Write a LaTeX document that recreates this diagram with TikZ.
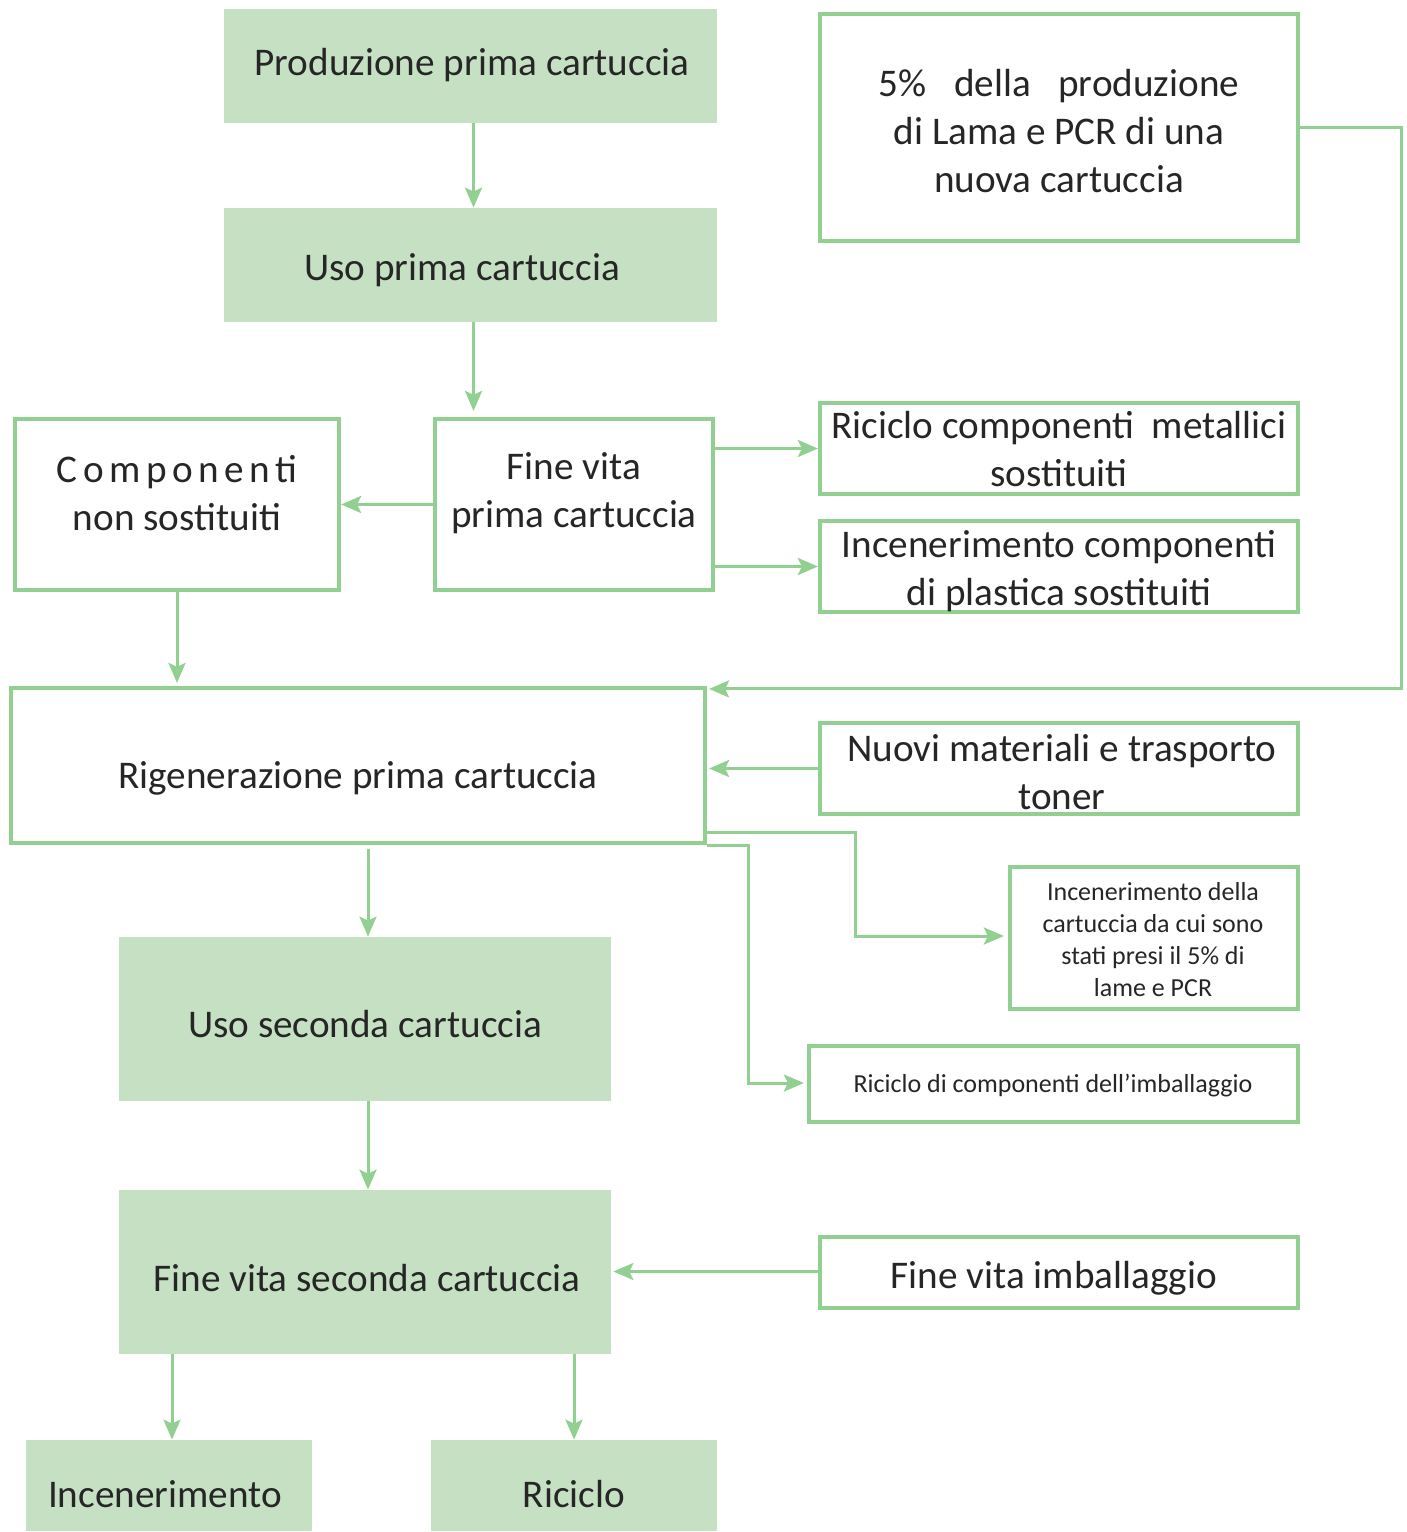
\documentclass[tikz,border=0pt]{standalone}
\usepackage{fontspec}
\setmainfont{Carlito}
\usetikzlibrary{arrows.meta,calc}
\definecolor{boxfill}{RGB}{197,224,195}
\definecolor{boxline}{RGB}{146,208,145}
\definecolor{ink}{RGB}{38,38,38}
\begin{document}
\begin{tikzpicture}[x=0.5pt,y=-0.5pt,
  size/.style 2 args={minimum width=#1*0.5pt, minimum height=#2*0.5pt},
  solidbox/.style 2 args={fill=boxfill, draw=none, inner sep=0pt, size={#1}{#2}},
  framebox/.style 2 args={draw=boxline, line width=2.1pt, fill=white, inner sep=0pt, size={#1}{#2}},
  txt/.style={align=center, inner sep=0pt, text=ink, font=\fontsize{19.6}{24}\selectfont},
  smalltxt/.style={align=center, inner sep=0pt, text=ink, font=\fontsize{13}{16}\selectfont},
  conn/.style={draw=boxline, line width=1.5pt, -{Stealth[length=10pt, width=8.5pt, inset=2pt]}},
  link/.style={draw=boxline, line width=1.5pt}]
\useasboundingbox (0,0) rectangle (1407,1532);

% boxes
\node[solidbox={493}{114}] (p1) at (470.5,66) {};
\node[solidbox={493}{114}] (p2) at (470.5,265) {};
\node[framebox={478}{227}] (pct) at (1059,127.5) {};
\node[framebox={278}{171}] (fv1) at (574,504.5) {};
\node[framebox={324}{171}] (comp) at (177,504.5) {};
\node[framebox={478}{91}] (met) at (1059,448.5) {};
\node[framebox={478}{91}] (pla) at (1059,566.5) {};
\node[framebox={694}{155}] (rig) at (358,765.5) {};
\node[framebox={478}{91}] (nuo) at (1059,768.5) {};
\node[framebox={288}{142}] (inc) at (1154,938) {};
\node[framebox={489}{76}] (imb) at (1053.5,1084) {};
\node[solidbox={492}{164}] (uso2) at (365,1019) {};
\node[solidbox={492}{164}] (fv2) at (365,1272) {};
\node[framebox={478}{71}] (fvi) at (1059,1272.5) {};
\node[solidbox={286}{91}] (ince) at (169,1485.5) {};
\node[solidbox={286}{91}] (ric) at (574,1485.5) {};

% labels
\node[txt] (p1t) at (472,65) {Produzione prima cartuccia};
\node[txt] (p2t) at (462,270) {Uso prima cartuccia};
\node[txt] (pctt) at (1059,131) {5\%\hspace{0.7em}della\hspace{0.7em}produzione\\di Lama e PCR di una\\nuova cartuccia};
\node[txt] (fv1t) at (574,493) {Fine vita\\prima cartuccia};
\node[txt] (compt) at (177,493) {{\addfontfeatures{LetterSpace=14}Componenti}\\non sostituiti};
\node[txt] (mett) at (1059,449) {Riciclo componenti\ \ metallici\\sostituiti};
\node[txt] (plat) at (1059,571) {Incenerimento componenti\\di plastica sostituiti};
\node[txt] (rigt) at (358,778) {Rigenerazione prima cartuccia};
\node[txt] (nuot) at (1062,772) {Nuovi materiali e trasporto\\toner};
\node[smalltxt] (inct) at (1153,940) {Incenerimento della\\cartuccia da cui sono\\stati presi il 5\% di\\lame e PCR};
\node[smalltxt] (imbt) at (1053,1086) {Riciclo di componenti dell’imballaggio};
\node[txt] (uso2t) at (365,1024) {Uso seconda cartuccia};
\node[txt] (fv2t) at (367,1278) {Fine vita seconda cartuccia};
\node[txt] (fvit) at (1054,1278) {Fine vita imballaggio};
\node[txt] (incet) at (165,1494) {Incenerimento};
\node[txt] (rict) at (574,1494) {Riciclo};

% connectors
\draw[conn] ([xshift=1.5pt]p1.south) -- ([xshift=1.5pt]p2.north);
\draw[conn] ([xshift=1.5pt]p2.south) -- ([xshift=1.5pt,yshift=3pt]p2.south |- fv1.north);
\draw[conn] (fv1.west) -- (comp.east);
\draw[conn] (fv1.east |- met.west) -- (met.west);
\draw[conn] (fv1.east |- pla.west) -- (pla.west);
\draw[conn] (comp.south) -- ([yshift=1.5pt]comp.south |- rig.north);
\draw[conn] (pct.east) -- ++(101,0) |- ($(rig.north east)+(2,3)$);
\draw[conn] (nuo.west) -- ($(rig.east |- nuo.west)+(2,0)$);
\draw[conn] ($(rig.south east)+(0,-13)$) -- ++(148,0) |- ($(inc.west)+(-4,-2)$);
\draw[conn] (rig.south east) -- ++(41,0) |- ($(imb.west)+(-3,-1)$);
\draw[conn] ($(rig.south)+(10,4)$) -- ($(rig.south |- uso2.north)+(10,0)$);
\draw[conn] ($(uso2.south)+(3,0)$) -- ($(uso2.south |- fv2.north)+(3,0)$);
\draw[conn] ($(fvi.west)+(0,-1)$) -- ($(fv2.east |- fvi.west)+(2,-1)$);
\draw[conn] ($(fv2.south -| ince.north)+(3,0)$) -- ($(ince.north)+(3,0)$);
\draw[conn] (fv2.south -| ric.north) -- (ric.north);
\end{tikzpicture}
\end{document}
